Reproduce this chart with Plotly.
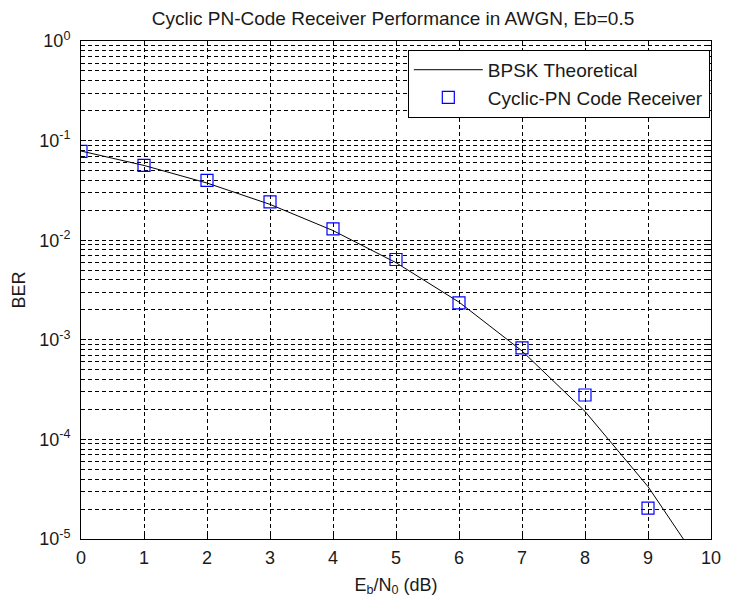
import plotly.graph_objects as go

# ---- data ----
ebn0_db = [0, 1, 2, 3, 4, 5, 6, 7, 8, 9, 10]
ber_theory = [0.0786, 0.0563, 0.0375, 0.0229, 0.0125, 0.00595, 0.00239,
              0.000773, 0.000191, 3.36e-5, 3.87e-6]
sim_x = [0, 1, 2, 3, 4, 5, 6, 7, 8, 9]
ber_sim = [0.078, 0.0565, 0.0398, 0.0243, 0.0130, 0.0064, 0.00235,
           0.00083, 0.000279, 2.04e-5]

decades = [0, -1, -2, -3, -4, -5]
y_tick_text = ["10<sup>%d</sup>" % d for d in decades]
x_ticks = list(range(0, 11))

FONT = "Liberation Sans, Arial, sans-serif"
TXT = "#1a1a1a"

fig = go.Figure()
fig.add_trace(go.Scatter(
    x=ebn0_db, y=ber_theory, mode="lines", name="BPSK Theoretical",
    line=dict(color="black", width=1)))
fig.add_trace(go.Scatter(
    x=sim_x, y=ber_sim, mode="markers", name="Cyclic-PN Code Receiver",
    marker=dict(symbol="square-open", size=12, color="#0000FF",
                line=dict(width=1.2, color="#0000FF"))))

minor_vals = [m * 10.0 ** d for d in decades[1:] for m in range(2, 10)]

grid = dict(gridcolor="black", gridwidth=1, griddash="4px,3px")

fig.update_layout(
    width=732, height=602,
    margin=dict(l=81, r=11, t=41, b=55),
    paper_bgcolor="white", plot_bgcolor="white",
    font=dict(family=FONT, size=18, color=TXT),
    title=dict(text="Cyclic PN-Code Receiver Performance in AWGN, Eb=0.5",
               x=(398 - 81) / 640, xref="paper", xanchor="center",
               y=1 - 18 / 602, yref="container", yanchor="middle",
               font=dict(family=FONT, size=19, color=TXT)),
    showlegend=True,
    legend=dict(x=(413 - 81) / 640, y=1 - (50 - 41) / 506,
                xanchor="left", yanchor="top",
                bgcolor="white", bordercolor="black", borderwidth=1,
                font=dict(family=FONT, size=19, color=TXT),
                itemwidth=69, traceorder="normal"),
    xaxis=dict(range=[0, 10], tickvals=x_ticks,
               ticktext=[str(v) for v in x_ticks],
               ticks="inside", ticklen=5, tickcolor="black",
               ticklabelstandoff=2,
               showline=True, linecolor="black", linewidth=1, mirror="allticks",
               showgrid=True, zeroline=False,
               title=dict(text="E<sub>b</sub>/N<sub>0</sub> (dB)", standoff=11,
                          font=dict(size=18)),
               **grid),
    yaxis=dict(type="log", range=[-5, 0],
               tickvals=[10.0 ** d for d in decades], ticktext=y_tick_text,
               ticks="inside", ticklen=5, tickcolor="black",
               ticklabelstandoff=6,
               showline=True, linecolor="black", linewidth=1, mirror="allticks",
               showgrid=True, zeroline=False,
               title=dict(text="BER", standoff=8, font=dict(size=18)),
               minor=dict(tickmode="array", tickvals=minor_vals,
                          ticks="inside", ticklen=3, tickcolor="black",
                          showgrid=True, gridcolor="black", gridwidth=1,
                          griddash="4px,3px"),
               **grid),
)

fig.write_html("out.html",
               config={"displayModeBar": False},
               post_script="document.body.style.margin='0px';")
